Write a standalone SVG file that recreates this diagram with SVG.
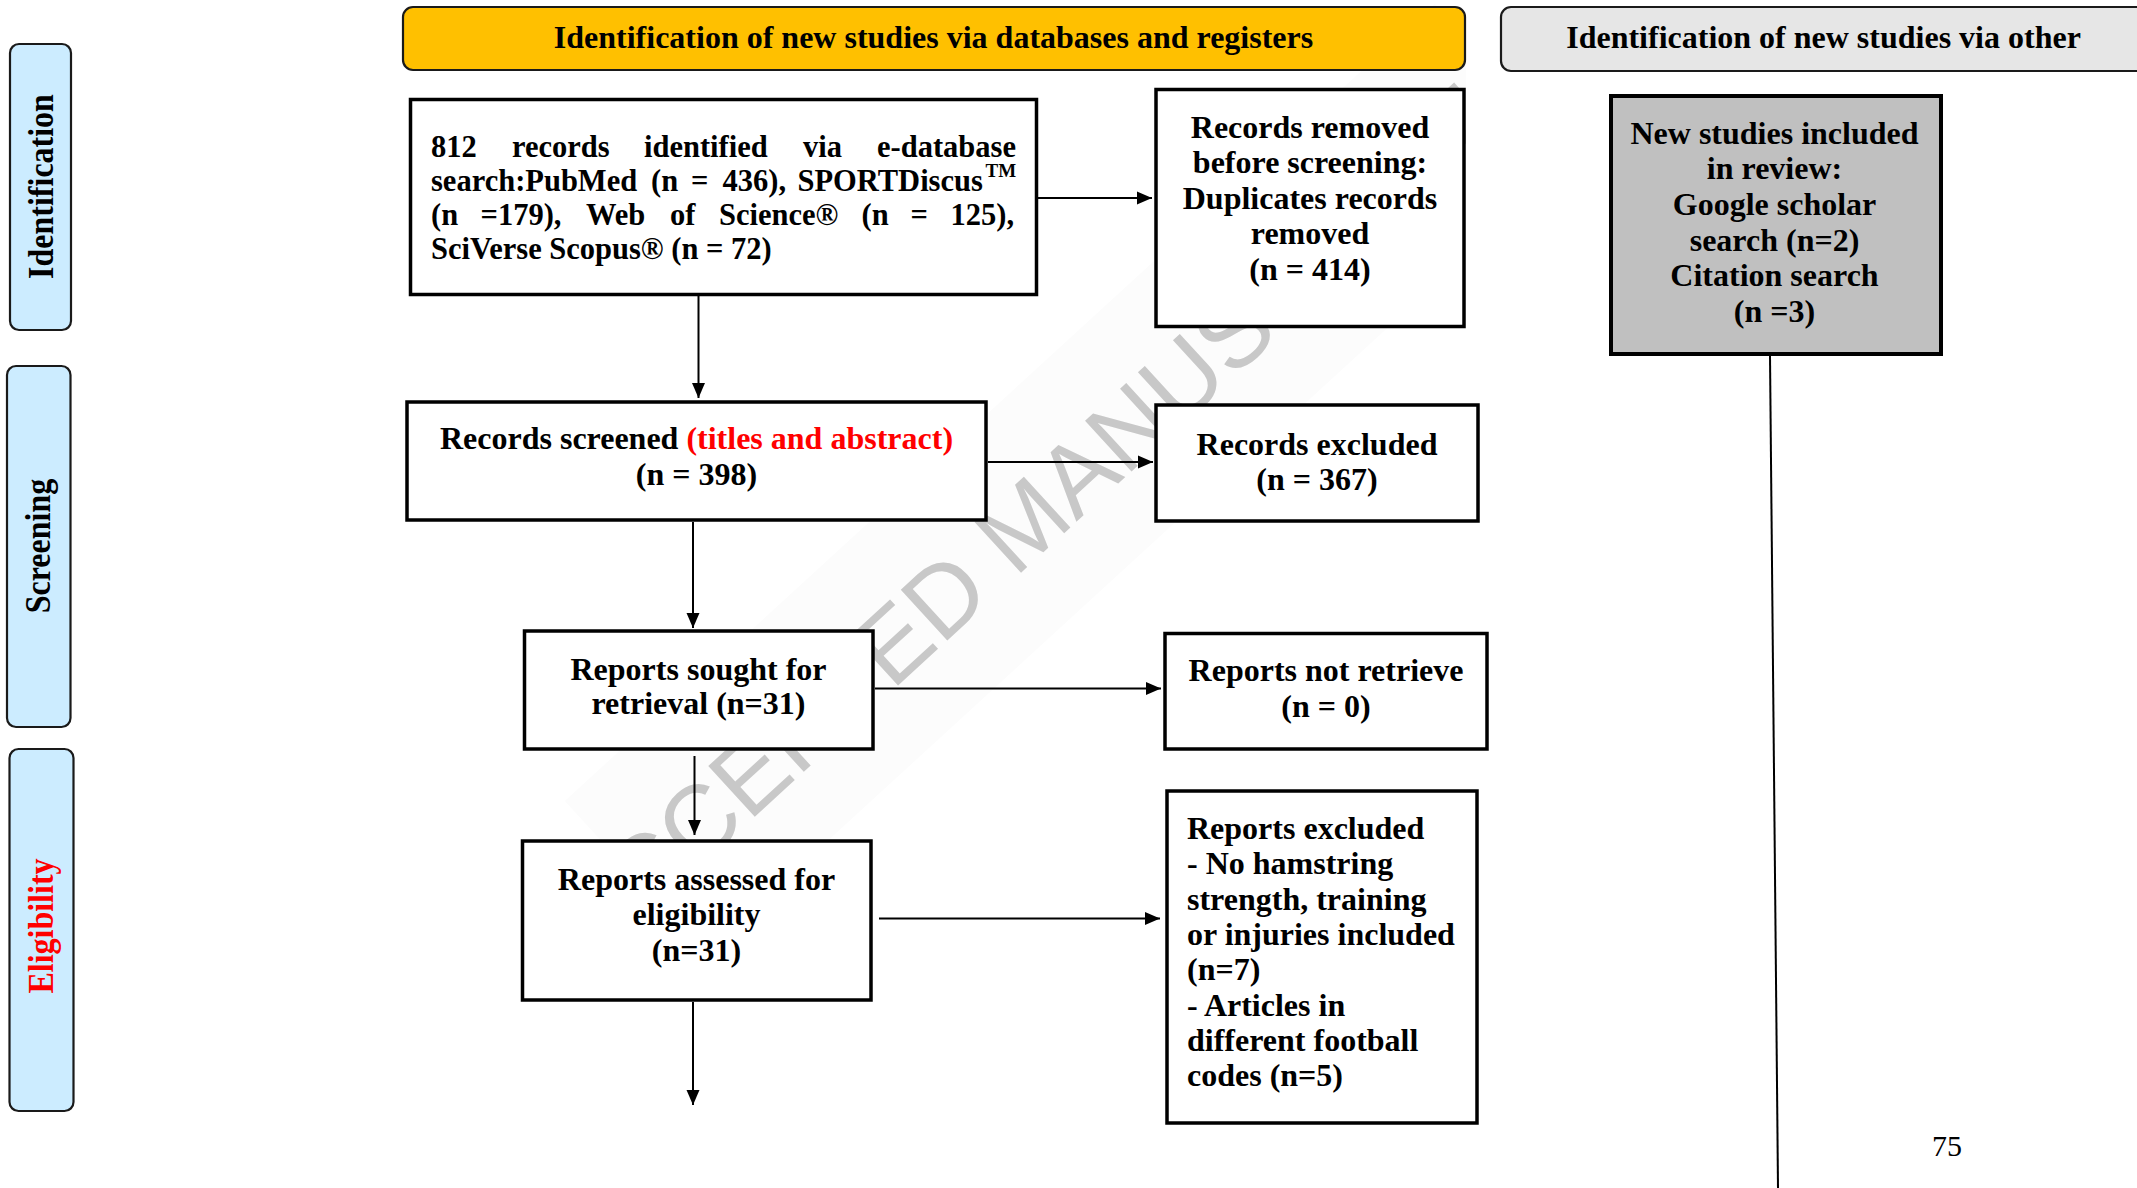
<svg xmlns="http://www.w3.org/2000/svg" width="2137" height="1188" viewBox="0 0 2137 1188">
<defs>
<style>
.bg{fill:#ffffff}
.box{fill:#ffffff;stroke:#000000;stroke-width:3.5}
.gbox{fill:#c0c0c0;stroke:#000000;stroke-width:4}
.hdr{stroke:#1a1a1a;stroke-width:2.2}
.side{fill:#ccecff;stroke:#1a1a1a;stroke-width:2.2}
.t{font-family:"Liberation Serif","Times New Roman",serif;font-weight:bold;font-size:32px;fill:#000000}
.t1{font-family:"Liberation Serif","Times New Roman",serif;font-weight:bold;font-size:30.5px;fill:#000000}
.c{text-anchor:middle}
.red{fill:#ff0000}
.conn{stroke:#000000;stroke-width:2;fill:none}
.wm{font-family:"Liberation Sans",Arial,sans-serif;font-size:100px;fill:#c8c8c8}
</style>
<marker id="ah" markerUnits="userSpaceOnUse" markerWidth="16" markerHeight="14" refX="15" refY="7" orient="auto">
<path d="M0,0.5 L15,7 L0,13.5 z" fill="#000000"/>
</marker>
<clipPath id="wmclip">
<rect x="0" y="0" width="1466" height="1188"/>
</clipPath>
</defs>
<rect class="bg" x="0" y="0" width="2137" height="1188"/>

<g id="watermark" clip-path="url(#wmclip)">
<g transform="translate(593,965) rotate(-42.5)">
<rect x="90" y="-140" width="1180" height="207" fill="#fcfcfc"/>
<text class="wm" x="0" y="0">ACCEPTED MANUSCRIPT</text>
</g>
</g>

<g id="header-databases">
<rect class="hdr" x="403" y="7" width="1062" height="63" rx="10" fill="#ffc000"/>
<text class="t c" x="933.5" y="48">Identification of new studies via databases and registers</text>
</g>
<g id="header-other">
<rect class="hdr" x="1501" y="7" width="700" height="64" rx="10" fill="#e6e6e6"/>
<text class="t c" x="1823.5" y="48">Identification of new studies via other</text>
</g>

<g id="label-identification">
<rect class="side" x="10" y="44" width="61" height="286" rx="9"/>
<text class="t c" transform="translate(52.5,186.5) rotate(-90) scale(1,1.15)" fill="#111111">Identification</text>
</g>
<g id="label-screening">
<rect class="side" x="7" y="366" width="63.5" height="361" rx="9"/>
<text class="t c" transform="translate(50,546) rotate(-90) scale(1,1.15)" fill="#111111">Screening</text>
</g>
<g id="label-eligibility">
<rect class="side" x="9.5" y="749" width="64" height="362" rx="9"/>
<text class="t c red" transform="translate(52.5,926) rotate(-90) scale(1,1.15)">Eligibility</text>
</g>

<g id="connectors">
<path class="conn" d="M698.5,296 V398" marker-end="url(#ah)"/>
<path class="conn" d="M1038,198 H1152" marker-end="url(#ah)"/>
<path class="conn" d="M988,462 H1153" marker-end="url(#ah)"/>
<path class="conn" d="M693,522 V628" marker-end="url(#ah)"/>
<path class="conn" d="M875,688.5 H1161" marker-end="url(#ah)"/>
<path class="conn" d="M694.5,756 V835" marker-end="url(#ah)"/>
<path class="conn" d="M879,918.5 H1160" marker-end="url(#ah)"/>
<path class="conn" d="M693,1002 V1105" marker-end="url(#ah)"/>
<path class="conn" d="M1770,356 L1778,1188" stroke-width="1.6"/>
</g>

<g id="node-identified">
<rect class="box" x="410.5" y="99.5" width="626" height="195"/>
<text class="t1" y="156.5"><tspan x="431">812</tspan><tspan x="512">records</tspan><tspan x="644">identified</tspan><tspan x="803">via</tspan><tspan x="877">e-database</tspan></text>
<text class="t1" y="190.5"><tspan x="431">search:PubMed</tspan><tspan x="651">(n</tspan><tspan x="691">=</tspan><tspan x="722.5">436),</tspan><tspan x="797.5">SPORTDiscus</tspan><tspan x="985.5" y="176.5" font-size="19">TM</tspan></text>
<text class="t1" y="224.5"><tspan x="431">(n</tspan><tspan x="480.5">=179),</tspan><tspan x="586">Web</tspan><tspan x="670">of</tspan><tspan x="719">Science®</tspan><tspan x="861.5">(n</tspan><tspan x="910.5">=</tspan><tspan x="950.5">125),</tspan></text>
<text class="t1" x="431" y="258.5">SciVerse Scopus® (n = 72)</text>
</g>

<g id="node-removed">
<rect class="box" x="1156" y="89.5" width="308" height="237"/>
<text class="t c" x="1310" y="137.5">Records removed</text>
<text class="t c" x="1310" y="173">before screening:</text>
<text class="t c" x="1310" y="208.5">Duplicates records</text>
<text class="t c" x="1310" y="244">removed</text>
<text class="t c" x="1310" y="279.5">(n = 414)</text>
</g>

<g id="node-other">
<rect class="gbox" x="1611" y="96" width="330" height="258"/>
<text class="t c" x="1774.5" y="144">New studies included</text>
<text class="t c" x="1774.5" y="179">in review:</text>
<text class="t c" x="1774.5" y="215">Google scholar</text>
<text class="t c" x="1774.5" y="250.5">search (n=2)</text>
<text class="t c" x="1774.5" y="285.5">Citation search</text>
<text class="t c" x="1774.5" y="321.5">(n =3)</text>
</g>

<g id="node-screened">
<rect class="box" x="407" y="402" width="579" height="118"/>
<text class="t c" x="696.5" y="448.5">Records screened <tspan class="red">(titles and abstract)</tspan></text>
<text class="t c" x="696.5" y="485">(n = 398)</text>
</g>

<g id="node-excluded">
<rect class="box" x="1156" y="405" width="322" height="116"/>
<text class="t c" x="1317" y="454.5">Records excluded</text>
<text class="t c" x="1317" y="489.5">(n = 367)</text>
</g>

<g id="node-sought">
<rect class="box" x="524.5" y="631" width="348.5" height="118"/>
<text class="t c" x="698.5" y="679.5">Reports sought for</text>
<text class="t c" x="698.5" y="714">retrieval (n=31)</text>
</g>

<g id="node-notretrieved">
<rect class="box" x="1165" y="633.5" width="322" height="115.5"/>
<text class="t c" x="1326" y="681">Reports not retrieve</text>
<text class="t c" x="1326" y="716.5">(n = 0)</text>
</g>

<g id="node-assessed">
<rect class="box" x="522.5" y="841" width="348.5" height="159"/>
<text class="t c" x="696.5" y="889.5">Reports assessed for</text>
<text class="t c" x="696.5" y="925">eligibility</text>
<text class="t c" x="696.5" y="960.5">(n=31)</text>
</g>

<g id="node-reportsexcluded">
<rect class="box" x="1167" y="791" width="310" height="332"/>
<text class="t" x="1187" y="839">Reports excluded</text>
<text class="t" x="1187" y="874.3">- No hamstring</text>
<text class="t" x="1187" y="909.6">strength, training</text>
<text class="t" x="1187" y="944.9">or injuries included</text>
<text class="t" x="1187" y="980.2">(n=7)</text>
<text class="t" x="1187" y="1015.5">- Articles in</text>
<text class="t" x="1187" y="1050.8">different football</text>
<text class="t" x="1187" y="1086.1">codes (n=5)</text>
</g>

<text id="page-number" x="1932" y="1156" font-family="Liberation Serif,Times New Roman,serif" font-size="30" fill="#000000">75</text>
</svg>
